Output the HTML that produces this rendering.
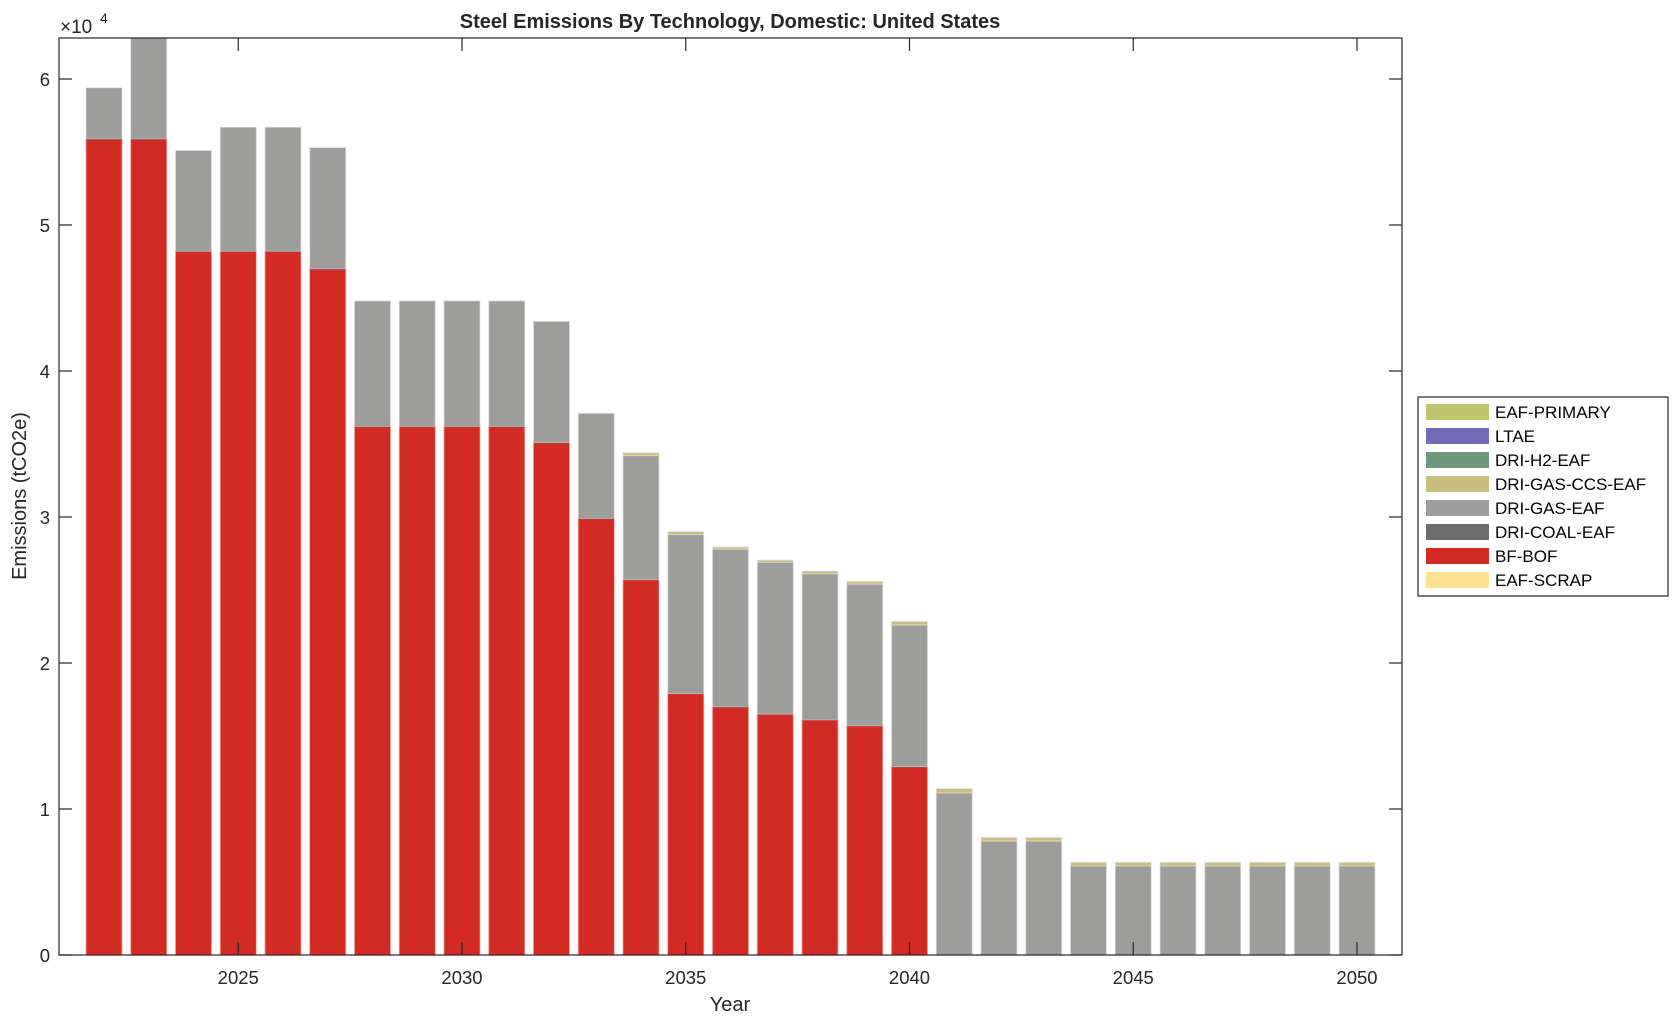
<!DOCTYPE html>
<html><head><meta charset="utf-8"><style>
html,body{margin:0;padding:0;background:#fff;}
svg text{font-family:"Liberation Sans",Arial,sans-serif;fill:#262626;}
</style></head><body>
<svg id="s" width="1679" height="1023" viewBox="0 0 1679 1023" xmlns="http://www.w3.org/2000/svg">
<rect width="1679" height="1023" fill="#fff"/>
<g id="bars"></g>
<rect x="59" y="38" width="1343" height="917" fill="none" stroke="#262626" stroke-width="1.2"/>
<g id="ticks" stroke="#262626" stroke-width="1.2"></g>
<g id="labels" font-size="18.5"></g>
<text x="60" y="33" font-size="19">×10</text><text x="100" y="23" font-size="14">4</text>
<text x="730" y="28" font-size="20" font-weight="bold" text-anchor="middle">Steel Emissions By Technology, Domestic: United States</text>
<text x="730" y="1011" font-size="20" text-anchor="middle">Year</text>
<text transform="translate(26,496) rotate(-90)" font-size="20" text-anchor="middle">Emissions (tCO2e)</text>
<g id="legend">
<rect x="1418" y="397" width="250" height="199" fill="#fff" stroke="#262626" stroke-width="1.2"/>
</g>
</svg>
<script>
const NS="http://www.w3.org/2000/svg";
function el(p,t,a,txt){const e=document.createElementNS(NS,t);for(const k in a)e.setAttribute(k,a[k]);if(txt!==undefined)e.textContent=txt;document.getElementById(p).appendChild(e);return e;}
const y0=955,k=146/10000;
const Y=v=>y0-v*k;
const data=[[55900,59400,59400],[55900,63500,63500],[48200,55100,55100],[48200,56700,56700],[48200,56700,56700],[47000,55300,55300],
[36200,44800,44800],[36200,44800,44800],[36200,44800,44800],[36200,44800,44800],[35100,43400,43400],[29900,37100,37100],
[25700,34200,34400],[17900,28800,29000],[17000,27800,27950],[16500,26900,27050],[16100,26100,26300],[15700,25400,25600],[12900,22600,22850],
[0,11100,11400],[0,7800,8050],[0,7800,8050],[0,6100,6350],[0,6100,6350],[0,6100,6350],[0,6100,6350],[0,6100,6350],[0,6100,6350],[0,6100,6350]];
const sp=44.75,w=36;
data.forEach((d,i)=>{const cx=104+i*sp,x=cx-w/2;
 const top=v=>Math.max(Y(v),38);
 if(d[2]>d[1]) el("bars","rect",{x,y:top(d[2]),width:w,height:top(d[1])-top(d[2]),fill:"#c8bd7e",stroke:"#ece6c8","stroke-width":0.8});
 el("bars","rect",{x,y:top(d[1]),width:w,height:Y(d[0])-top(d[1]),fill:"#9d9d9b",stroke:"#dcdcdc","stroke-width":0.8});
 if(d[0]>0) el("bars","rect",{x,y:Y(d[0]),width:w,height:y0-Y(d[0]),fill:"#d22b24",stroke:"#eaa0a0","stroke-width":0.8});
});
for(let v=0;v<=6;v++){const y=Y(v*10000);
 el("ticks","line",{x1:59,x2:72,y1:y,y2:y});el("ticks","line",{x1:1402,x2:1389,y1:y,y2:y});
 el("labels","text",{x:50,y:y+7,"text-anchor":"end"},String(v));}
for(let yr=2025;yr<=2050;yr+=5){const x=104+(yr-2022)*sp;
 el("ticks","line",{x1:x,x2:x,y1:955,y2:942});el("ticks","line",{x1:x,x2:x,y1:38,y2:51});
 el("labels","text",{x:x,y:984,"text-anchor":"middle"},String(yr));}
const leg=[["EAF-PRIMARY","#bec56c"],["LTAE","#746bb8"],["DRI-H2-EAF","#6f987a"],["DRI-GAS-CCS-EAF","#c8bd7e"],["DRI-GAS-EAF","#9d9d9b"],["DRI-COAL-EAF","#6d6d6d"],["BF-BOF","#d22b24"],["EAF-SCRAP","#fde293"]];
leg.forEach((l,i)=>{const y=412+i*24;
 el("legend","rect",{x:1426,y:y-8,width:63,height:16,fill:l[1]});
 el("legend","text",{x:1495,y:y+6,"font-size":17,style:"fill:#000"},l[0]);});
</script>
</body></html>
